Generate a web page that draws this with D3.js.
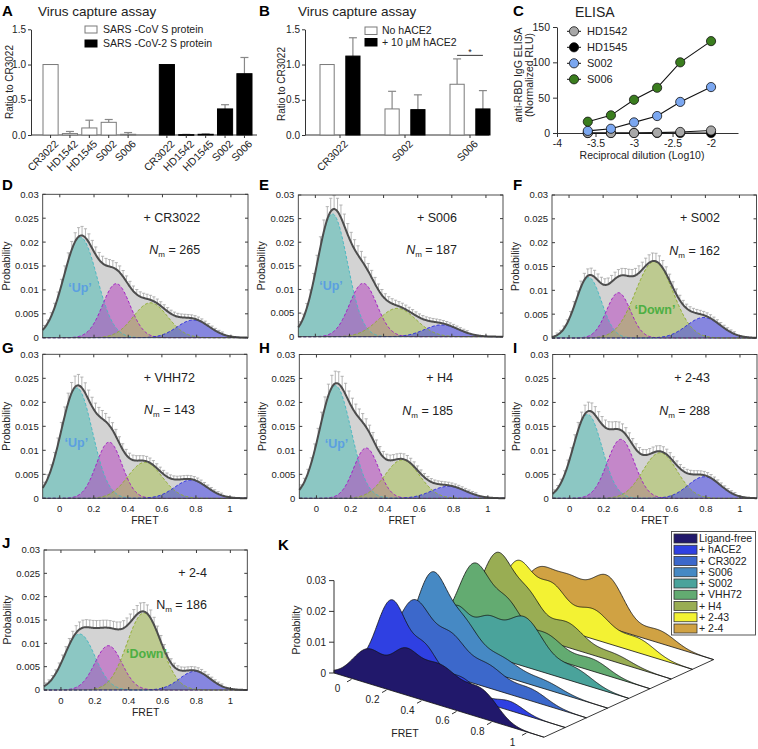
<!DOCTYPE html>
<html><head><meta charset="utf-8">
<script src="https://cdn.jsdelivr.net/npm/d3@7"></script>
<style>body{margin:0;background:#fff}svg{display:block}</style>
</head><body><svg id="fig" width="758" height="749"></svg>
<script>
// ================= DATA =================
// Panel A: virus capture assay
const captureAntibodies = ['CR3022','HD1542','HD1545','S002','S006'];
const captureSarsCov     = [1.0, 0.02, 0.10, 0.18, 0.01];
const captureSarsCovErr  = [0, 0.03, 0.11, 0.04, 0.025];
const captureSarsCov2    = [1.0, 0.005, 0.01, 0.37, 0.87];
const captureSarsCov2Err = [0, 0.004, 0.006, 0.06, 0.23];
const captureSeries = ['SARS -CoV S protein','SARS -CoV-2 S protein'];
const ratioTicks = [0, 0.5, 1.0, 1.5];

// Panel B: virus capture +/- hACE2
const aceAntibodies = ['CR3022','S002','S006'];
const aceNo      = [1.0, 0.37, 0.72];
const aceNoErr   = [0, 0.25, 0.36];
const aceWith    = [1.12, 0.36, 0.37];
const aceWithErr = [0.26, 0.21, 0.26];
const aceSeries = ['No hACE2','+ 10 \u03bcM hACE2'];

// Panel C: ELISA
const elisaDilution = [-3.6, -3.3, -3.0, -2.7, -2.4, -2.0];
const elisaHD1542 = [0, 0, 0, 0.5, 1.5, 3.5];
const elisaHD1545 = [0, 0, 0, 0, 0, 0];
const elisaS002   = [3, 6, 15, 24, 44, 65];
const elisaS006   = [16, 25, 47, 64, 100, 130];
const elisaNames  = ['HD1542','HD1545','S002','S006'];
const elisaXTicks = [-4, -3.5, -3, -2.5, -2];
const elisaYTicks = [0, 50, 100, 150];

// Panels D-J: smFRET Gaussian fits, each [amplitude, centre, sigma]
const fretLigands = ['+ CR3022','+ S006','+ S002','+ VHH72','+ H4','+ 2-43','+ 2-4'];
const fretNm      = [265, 187, 162, 143, 185, 288, 186];
const fitUp   = [[0.021,0.12,0.097],[0.026,0.10,0.088],[0.0127,0.115,0.075],[0.023,0.10,0.092],[0.0235,0.11,0.092],[0.0175,0.105,0.085],[0.012,0.11,0.09]];
const fitInt  = [[0.0113,0.33,0.08],[0.0113,0.28,0.08],[0.0095,0.29,0.07],[0.0117,0.29,0.075],[0.0105,0.29,0.072],[0.0123,0.30,0.08],[0.0095,0.28,0.08]];
const fitDown = [[0.0073,0.53,0.10],[0.006,0.48,0.11],[0.016,0.50,0.11],[0.0075,0.50,0.10],[0.008,0.50,0.10],[0.0095,0.53,0.10],[0.0165,0.49,0.10]];
const fitHigh = [[0.0037,0.78,0.095],[0.0025,0.74,0.10],[0.0043,0.79,0.10],[0.0038,0.77,0.095],[0.0025,0.77,0.10],[0.0045,0.79,0.095],[0.004,0.79,0.09]];
const fretErrRel = [0.07, 0.09, 0.08, 0.08, 0.09, 0.08, 0.09];
const probTicks = [0, 0.005, 0.01, 0.015, 0.02, 0.025, 0.03];
const fretTicks = [0, 0.2, 0.4, 0.6, 0.8, 1];

// Panel K: waterfall of FRET distributions
const kSeries = ['Ligand-free','+ hACE2','+ CR3022','+ S006','+ S002','+ VHH72','+ H4','+ 2-43','+ 2-4'];
const ligandFreeFit = [[0.011,0.10,0.09],[0.011,0.30,0.075],[0.013,0.50,0.12],[0.008,0.75,0.09]];
const hace2Fit      = [[0.024,0.11,0.085],[0.011,0.30,0.07],[0.006,0.50,0.09],[0.003,0.78,0.08]];
const kProbTicks = [0, 0.01, 0.02, 0.03];

// ================= DRAWING =================
const FONT = '"Liberation Sans", Arial, Helvetica, sans-serif';
const svg = d3.select('#fig').attr('font-family', FONT);
const INK = '#222';

function T(g, x, y, s, o = {}) {
  const t = g.append('text').attr('x', x).attr('y', y).text(s)
    .attr('font-size', o.fs || 10).attr('fill', o.fill || INK);
  if (o.anchor) t.attr('text-anchor', o.anchor);
  if (o.bold) t.attr('font-weight', 'bold');
  if (o.italic) t.attr('font-style', 'italic');
  if (o.rot) t.attr('transform', `rotate(${o.rot},${x},${y})`);
  return t;
}
function styleAxis(sel, fs) {
  sel.selectAll('path.domain').attr('stroke', '#333');
  sel.selectAll('.tick line').attr('stroke', '#333');
  sel.selectAll('.tick text').attr('font-size', fs).attr('fill', INK).attr('font-family', FONT);
}
function errBar(g, xc, v, e, y) {
  if (!(e > 0)) return;
  g.append('line').attr('x1', xc).attr('x2', xc).attr('y1', y(v)).attr('y2', y(v + e)).attr('stroke', '#888').attr('stroke-width', 1.2);
  g.append('line').attr('x1', xc - 4).attr('x2', xc + 4).attr('y1', y(v + e)).attr('y2', y(v + e)).attr('stroke', '#888').attr('stroke-width', 1.2);
}

// ---------- Panel A ----------
(function () {
  const g = svg.append('g');
  T(g, 2, 16, 'A', { fs: 15, bold: true, fill: '#000' });
  T(g, 38, 16, 'Virus capture assay', { fs: 13.5 });
  const y = d3.scaleLinear().domain([0, 1.5]).range([135, 29.3]);
  const x = d3.scaleBand().domain(d3.range(11)).range([43, 252]).paddingInner(0.22);
  const bars = captureAntibodies.map((n, i) => ({ slot: i, name: n, v: captureSarsCov[i], e: captureSarsCovErr[i], s: 0 }))
    .concat(captureAntibodies.map((n, i) => ({ slot: i + 6, name: n, v: captureSarsCov2[i], e: captureSarsCov2Err[i], s: 1 })));
  const ya = g.append('g').attr('transform', 'translate(31,0)')
    .call(d3.axisLeft(y).tickValues(ratioTicks).tickFormat(d3.format('.1f')).tickSize(3).tickPadding(2).tickSizeOuter(0));
  styleAxis(ya, 10);
  g.append('line').attr('x1', 31).attr('x2', 257).attr('y1', y(0)).attr('y2', y(0)).attr('stroke', '#333');
  T(g, 13, 82, 'Ratio to CR3022', { fs: 10, anchor: 'middle', rot: -90 });
  bars.forEach(b => {
    const xc = x(b.slot) + x.bandwidth() / 2;
    errBar(g, xc, b.v, b.e, y);
    g.append('rect').attr('x', x(b.slot)).attr('width', x.bandwidth()).attr('y', y(b.v)).attr('height', Math.max(0.6, y(0) - y(b.v)))
      .attr('fill', b.s ? '#000' : '#fff').attr('stroke', b.s ? '#000' : '#7a7a7a').attr('stroke-width', 1);
    g.append('line').attr('x1', xc).attr('x2', xc).attr('y1', y(0)).attr('y2', y(0) + 3).attr('stroke', '#333');
    g.append('text').attr('transform', `translate(${xc + 3},139) rotate(-45)`).attr('dy', '0.75em')
      .attr('text-anchor', 'end').attr('font-size', 10.5).attr('fill', INK).text(b.name);
  });
  captureSeries.forEach((s, i) => {
    g.append('rect').attr('x', 85).attr('y', 26 + i * 14).attr('width', 12).attr('height', 7)
      .attr('fill', i ? '#000' : '#fff').attr('stroke', i ? '#000' : '#7a7a7a');
    T(g, 103, 33 + i * 14, s, { fs: 10.5 });
  });
})();

// ---------- Panel B ----------
(function () {
  const g = svg.append('g');
  T(g, 259, 16, 'B', { fs: 15, bold: true, fill: '#000' });
  T(g, 298, 16, 'Virus capture assay', { fs: 13.5 });
  const y = d3.scaleLinear().domain([0, 1.5]).range([135, 29.3]);
  const x = d3.scalePoint().domain(aceAntibodies).range([340, 470]);
  const sub = d3.scaleBand().domain([0, 1]).range([-20, 20]).paddingInner(0.45);
  const ya = g.append('g').attr('transform', 'translate(305,0)')
    .call(d3.axisLeft(y).tickValues(ratioTicks).tickFormat(d3.format('.1f')).tickSize(3).tickPadding(2).tickSizeOuter(0));
  styleAxis(ya, 10);
  g.append('line').attr('x1', 305).attr('x2', 489).attr('y1', y(0)).attr('y2', y(0)).attr('stroke', '#333');
  T(g, 285, 84, 'Ratio to CR3022', { fs: 10, anchor: 'middle', rot: -90 });
  aceAntibodies.forEach((n, i) => {
    const c = x(n);
    [[aceNo[i], aceNoErr[i]], [aceWith[i], aceWithErr[i]]].forEach(([v, e], s) => {
      const bx = c + sub(s);
      errBar(g, bx + sub.bandwidth() / 2, v, e, y);
      g.append('rect').attr('x', bx).attr('width', sub.bandwidth()).attr('y', y(v)).attr('height', y(0) - y(v))
        .attr('fill', s ? '#000' : '#fff').attr('stroke', s ? '#000' : '#7a7a7a');
    });
    g.append('line').attr('x1', c).attr('x2', c).attr('y1', y(0)).attr('y2', y(0) + 3).attr('stroke', '#333');
    g.append('text').attr('transform', `translate(${c + 3},139) rotate(-45)`).attr('dy', '0.75em')
      .attr('text-anchor', 'end').attr('font-size', 10.5).attr('fill', INK).text(n);
  });
  // significance bar between S006 groups
  const c6 = x('S006');
  const sigY = y(aceNo[2] + aceNoErr[2] + 0.05);
  const hw = sub.bandwidth() / 2;
  g.append('line').attr('x1', c6 + sub(0) + hw).attr('x2', c6 + sub(1) + hw).attr('y1', sigY).attr('y2', sigY).attr('stroke', '#333');
  T(g, c6, sigY - 0.5, '*', { fs: 9, anchor: 'middle' });
  aceSeries.forEach((s, i) => {
    g.append('rect').attr('x', 365).attr('y', 27 + i * 11.5).attr('width', 12).attr('height', 7.5)
      .attr('fill', i ? '#000' : '#fff').attr('stroke', i ? '#000' : '#7a7a7a');
    T(g, 382, 34 + i * 11.5, s, { fs: 10.5 });
  });
})();

// ---------- Panel C ----------
(function () {
  const g = svg.append('g');
  T(g, 513, 16, 'C', { fs: 15, bold: true, fill: '#000' });
  T(g, 575, 17, 'ELISA', { fs: 14 });
  const x = d3.scaleLinear().domain([-4, -1.65]).range([557, 738]);
  const y = d3.scaleLinear().domain([0, 150]).range([133, 27]);
  const ya = g.append('g').attr('transform', 'translate(557,0)')
    .call(d3.axisLeft(y).tickValues(elisaYTicks).tickSize(4).tickSizeOuter(0));
  styleAxis(ya, 10.5);
  const xa = g.append('g').attr('transform', `translate(0,${y(0)})`)
    .call(d3.axisBottom(x).tickValues(elisaXTicks).tickFormat(d => String(d)).tickSize(4).tickSizeOuter(0));
  styleAxis(xa, 10.5);
  T(g, 522, 75, 'anti-RBD IgG ELISA', { fs: 10.5, anchor: 'middle', rot: -90 });
  T(g, 533, 75, '(Normalized RLU)', { fs: 10.5, anchor: 'middle', rot: -90 });
  T(g, 642, 159, 'Reciprocal dilution (Log10)', { fs: 10.5, anchor: 'middle' });
  const series = [
    { name: 'HD1545', v: elisaHD1545, c: '#000000' },
    { name: 'HD1542', v: elisaHD1542, c: '#a8a8a8' },
    { name: 'S002', v: elisaS002, c: '#7ba7f0' },
    { name: 'S006', v: elisaS006, c: '#3a7d1e' }];
  const line = d3.line().x(d => x(d[0])).y(d => y(d[1]));
  series.forEach(s => {
    const pts = elisaDilution.map((d, i) => [d, s.v[i]]);
    g.append('path').attr('d', line(pts)).attr('fill', 'none').attr('stroke', '#111').attr('stroke-width', 1.1);
    pts.forEach(p => g.append('circle').attr('cx', x(p[0])).attr('cy', y(p[1])).attr('r', 4.6)
      .attr('fill', s.c).attr('stroke', '#111').attr('stroke-width', 0.8));
  });
  elisaNames.forEach((n, i) => {
    const s = series.find(q => q.name === n);
    const ly = 31.3 + i * 16;
    g.append('line').attr('x1', 567).attr('x2', 581).attr('y1', ly).attr('y2', ly).attr('stroke', '#111');
    g.append('circle').attr('cx', 574).attr('cy', ly).attr('r', 4.6).attr('fill', s.c).attr('stroke', '#111').attr('stroke-width', 0.8);
    T(g, 587, ly + 4, n, { fs: 11 });
  });
})();

// ---------- Panels D-J ----------
function gauss(p, f) { return p[0] * Math.exp(-0.5 * ((f - p[1]) / p[2]) ** 2); }
function fitSum(comps, f) { return d3.sum(comps, p => gauss(p, f)); }
const fretGrid = d3.range(0, 301).map(i => -0.1 + i * 0.004);
const compFill = ['rgb(70,188,180)', 'rgb(182,60,192)', 'rgb(168,194,78)', 'rgb(58,58,236)'];
const compStroke = ['#4ab8c2', '#a21ec4', '#90ae2e', '#2424e0'];

const fretLayout = [
  { letter: 'D', lx: 2, ly: 190, x0: 42.7, x1: 248, y0: 194.3, y1: 337.7, xlab: false, tx: 0.82, state: '\u2018Up\u2019', sx: 0.118, sy: 0.0106, italicN: true },
  { letter: 'E', lx: 259, ly: 190, x0: 298.3, x1: 503, y0: 195, y1: 336.7, xlab: false, tx: 0.83, state: '\u2018Up\u2019', sx: 0.092, sy: 0.0108, italicN: true },
  { letter: 'F', lx: 513, ly: 190, x0: 552, x1: 756.5, y0: 195, y1: 338, xlab: false, tx: 0.886, state: '\u2018Down\u2019', sx: 0.504, sy: 0.0059, italicN: true },
  { letter: 'G', lx: 2, ly: 353, x0: 42.7, x1: 247, y0: 354.3, y1: 498.3, xlab: true, tx: 0.794, state: '\u2018Up\u2019', sx: 0.098, sy: 0.0117, italicN: true },
  { letter: 'H', lx: 259, ly: 353, x0: 299.3, x1: 505, y0: 354.5, y1: 498.3, xlab: true, tx: 0.797, state: '\u2018Up\u2019', sx: 0.117, sy: 0.0115, italicN: true },
  { letter: 'I', lx: 513, ly: 353, x0: 552.7, x1: 757, y0: 354.5, y1: 498.3, xlab: true, tx: 0.824, state: null, italicN: true },
  { letter: 'J', lx: 2, ly: 548, x0: 44, x1: 247.3, y0: 550, y1: 690, xlab: true, tx: 0.862, state: '\u2018Down\u2019', sx: 0.505, sy: 0.0079, italicN: false }];

fretLayout.forEach((L, i) => {
  const comps = [fitUp[i], fitInt[i], fitDown[i], fitHigh[i]];
  const x = d3.scaleLinear().domain([-0.1, 1.1]).range([L.x0, L.x1]);
  const y = d3.scaleLinear().domain([0, 0.03]).range([L.y1, L.y0]);
  const g = svg.append('g');
  T(g, L.lx, L.ly, L.letter, { fs: 15, bold: true, fill: '#000' });
  // histogram (grey) + error bars
  const area = d3.area().x(f => x(f)).y0(y(0)).y1(f => y(fitSum(comps, f)));
  g.append('path').datum(fretGrid).attr('d', area).attr('fill', '#d3d3d3');
  d3.range(0, 57).map(k => -0.09 + k * 0.02).forEach(b => {
    const v = fitSum(comps, b);
    if (v < 0.0006) return;
    const e = v * fretErrRel[i] + 0.0004;
    const xb = x(b);
    g.append('line').attr('x1', xb).attr('x2', xb).attr('y1', y(v)).attr('y2', y(v + e)).attr('stroke', '#a5a5a5').attr('stroke-width', 0.8);
    g.append('line').attr('x1', xb - 1.6).attr('x2', xb + 1.6).attr('y1', y(v + e)).attr('y2', y(v + e)).attr('stroke', '#a5a5a5').attr('stroke-width', 0.8);
  });
  // components
  comps.forEach((p, k) => {
    const a = d3.area().x(f => x(f)).y0(y(0)).y1(f => y(gauss(p, f)));
    g.append('path').datum(fretGrid).attr('d', a).attr('fill', compFill[k]).attr('fill-opacity', 0.5);
  });
  comps.forEach((p, k) => {
    const l = d3.line().x(f => x(f)).y(f => y(gauss(p, f)));
    g.append('path').datum(fretGrid).attr('d', l).attr('fill', 'none').attr('stroke', compStroke[k])
      .attr('stroke-width', 1).attr('stroke-dasharray', '3,2');
  });
  const tl = d3.line().x(f => x(f)).y(f => y(fitSum(comps, f))).curve(d3.curveBasis);
  g.append('path').datum(fretGrid).attr('d', tl).attr('fill', 'none').attr('stroke', '#4d4d4d').attr('stroke-width', 2);
  // frame with inward ticks
  g.append('rect').attr('x', L.x0).attr('y', L.y0).attr('width', L.x1 - L.x0).attr('height', L.y1 - L.y0)
    .attr('fill', 'none').attr('stroke', '#3a3a3a').attr('stroke-width', 0.9);
  probTicks.forEach(t => {
    g.append('line').attr('x1', L.x0).attr('x2', L.x0 + 3).attr('y1', y(t)).attr('y2', y(t)).attr('stroke', '#3a3a3a');
    g.append('line').attr('x1', L.x1 - 3).attr('x2', L.x1).attr('y1', y(t)).attr('y2', y(t)).attr('stroke', '#3a3a3a');
    T(g, L.x0 - 4, y(t) + 3.4, String(t), { fs: 9.5, anchor: 'end' });
  });
  fretTicks.forEach(t => {
    g.append('line').attr('x1', x(t)).attr('x2', x(t)).attr('y1', L.y1).attr('y2', L.y1 - 3).attr('stroke', '#3a3a3a');
    g.append('line').attr('x1', x(t)).attr('x2', x(t)).attr('y1', L.y0).attr('y2', L.y0 + 3).attr('stroke', '#3a3a3a');
    if (L.xlab) T(g, x(t), L.y1 + 14, String(t), { fs: 9.5, anchor: 'middle' });
  });
  if (L.xlab) T(g, (L.x0 + L.x1) / 2, L.y1 + 26, 'FRET', { fs: 10.5, anchor: 'middle' });
  T(g, L.x0 - 33, (L.y0 + L.y1) / 2, 'Probability', { fs: 10.5, anchor: 'middle', rot: -90 });
  // annotations
  T(g, x(L.tx), y(0.0252) + 4.5, fretLigands[i], { fs: 12.5, anchor: 'end' });
  const nt = g.append('text').attr('x', x(L.tx)).attr('y', y(0.0184) + 4.5).attr('text-anchor', 'end')
    .attr('font-size', 12.5).attr('fill', INK);
  nt.append('tspan').text('N').attr('font-style', L.italicN ? 'italic' : 'normal');
  nt.append('tspan').text('m').attr('font-size', 8).attr('dy', 3);
  nt.append('tspan').text(' = ' + fretNm[i]).attr('dy', -3);
  if (L.state) T(g, x(L.sx), y(L.sy) + 4.5, L.state, { fs: 12.5, bold: true, anchor: 'middle',
    fill: L.state.includes('Up') ? '#5b9fe0' : '#4daf43' });
});

// ---------- Panel K ----------
(function () {
  const g = svg.append('g');
  T(g, 278, 550, 'K', { fs: 15, bold: true, fill: '#000' });
  const kFits = [ligandFreeFit, hace2Fit].concat(fretLigands.map((_, i) => [fitUp[i], fitInt[i], fitDown[i], fitHigh[i]]));
  const kColors = ['#21186b', '#2f40e2', '#3c68cb', '#4689c4', '#4aa39b', '#63ab71', '#99ad53', '#f3f233', '#d0a243'];
  const ox = 334, oy = 673;
  const fX = d3.scaleLinear().domain([-0.1, 1.1]).range([0, 210]);
  const fY = d3.scaleLinear().domain([-0.1, 1.1]).range([0, 64.2]);
  const sX = d3.scalePoint().domain(kSeries).range([0, 169.6]);
  const sY = d3.scalePoint().domain(kSeries).range([0, -77.6]);
  const pZ = d3.scaleLinear().domain([0, 0.03]).range([0, 92.4]);
  const P = (s, f, h) => [ox + fX(f) + sX(s), oy + fY(f) + sY(s) - pZ(h)];
  // floor edges
  const first = kSeries[0], last = kSeries[kSeries.length - 1];
  g.append('line').attr('x1', P(first, -0.1, 0)[0]).attr('y1', P(first, -0.1, 0)[1]).attr('x2', P(last, -0.1, 0)[0]).attr('y2', P(last, -0.1, 0)[1]).attr('stroke', '#222').attr('stroke-width', 0.8);
  g.append('line').attr('x1', P(first, 1.1, 0)[0]).attr('y1', P(first, 1.1, 0)[1]).attr('x2', P(last, 1.1, 0)[0]).attr('y2', P(last, 1.1, 0)[1]).attr('stroke', '#222').attr('stroke-width', 0.9);
  // series back to front
  for (let i = kSeries.length - 1; i >= 0; i--) {
    const s = kSeries[i];
    const top = fretGrid.map(f => P(s, f, fitSum(kFits[i], f)));
    const base = [P(s, 1.1, 0), P(s, -0.1, 0)];
    g.append('path').attr('d', d3.line()(top.concat(base)) + 'Z').attr('fill', kColors[i])
      .attr('stroke', '#111').attr('stroke-width', 0.8).attr('stroke-linejoin', 'round');
  }
  // probability axis
  const a0 = P(first, -0.1, 0), a1 = P(first, -0.1, 0.03);
  g.append('line').attr('x1', a0[0]).attr('y1', a0[1]).attr('x2', a1[0]).attr('y2', a1[1]).attr('stroke', '#333');
  kProbTicks.forEach(t => {
    const p = P(first, -0.1, t);
    g.append('line').attr('x1', p[0] - 5).attr('x2', p[0]).attr('y1', p[1]).attr('y2', p[1]).attr('stroke', '#333');
    T(g, p[0] - 8, p[1] + 3.5, String(t), { fs: 10, anchor: 'end' });
  });
  T(g, 300, 630, 'Probability', { fs: 10.5, anchor: 'middle', rot: -90 });
  // FRET axis
  fretTicks.forEach(t => {
    const p = P(first, t, 0);
    g.append('line').attr('x1', p[0]).attr('y1', p[1] + 1).attr('x2', p[0] - 4.5).attr('y2', p[1] + 3.5).attr('stroke', '#333');
    T(g, p[0] - 14, p[1] + 14, String(t), { fs: 10, anchor: 'middle' });
  });
  T(g, 405, 737, 'FRET', { fs: 10.5, anchor: 'middle' });
  // legend
  g.append('rect').attr('x', 671.5).attr('y', 531.5).attr('width', 84).attr('height', 103.5)
    .attr('fill', '#fff').attr('stroke', '#444').attr('stroke-width', 0.9);
  kSeries.forEach((s, i) => {
    const yy = 534 + i * 11.25;
    g.append('rect').attr('x', 674).attr('y', yy).attr('width', 23).attr('height', 9)
      .attr('fill', kColors[i]).attr('stroke', '#333').attr('stroke-width', 0.8);
    T(g, 699, yy + 8.2, s, { fs: 10.5 });
  });
})();
</script>
</body></html>
